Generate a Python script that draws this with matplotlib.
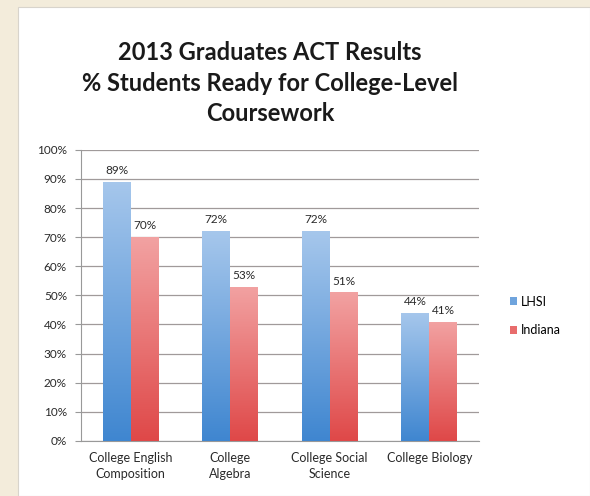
import matplotlib
import matplotlib.pyplot as plt
from matplotlib.patches import Rectangle
import numpy as np

matplotlib.use("Agg")

categories = ["College English\nComposition", "College\nAlgebra",
              "College Social\nScience", "College Biology"]
lhsi = [89, 72, 72, 44]
indiana = [70, 53, 51, 41]
series_names = ["LHSI", "Indiana"]
yticks = list(range(0, 101, 10))

plt.rcParams["font.family"] = ["Lato", "DejaVu Sans"]

fig = plt.figure(figsize=(5.9, 4.96), dpi=100)
fig.patch.set_facecolor("#f3ecdb")

# white chart panel
panel = Rectangle((18 / 590, 0), 1 - 18 / 590, 1 - 7 / 496,
                  transform=fig.transFigure, facecolor="white",
                  edgecolor="#d8d4cc", linewidth=0.8, zorder=-10)
fig.patches.append(panel)

fig.text(0.458, 0.832, "2013 Graduates ACT Results\n% Students Ready for College-Level\nCoursework",
         ha="center", va="center", fontsize=17, fontweight="bold",
         color="#1a1a1a", linespacing=1.4)

ax = fig.add_axes([0.137, 0.111, 0.675, 0.587])
ax.set_facecolor("none")

x = np.arange(len(categories))
w = 0.28


def gradient_bars(xs, vals, top, bottom, label):
    bars = ax.bar(xs, vals, width=w, color=bottom, label=label, zorder=2)
    cmap = matplotlib.colors.LinearSegmentedColormap.from_list("g", [bottom, top])
    grad = np.linspace(0, 1, 256).reshape(-1, 1)
    for b in bars:
        x0, y0 = b.get_x(), b.get_y()
        im = ax.imshow(grad, cmap=cmap, origin="lower", aspect="auto",
                       extent=[x0, x0 + b.get_width(), y0, y0 + b.get_height()],
                       zorder=3)
        im.set_clip_path(b)
    return bars


b1 = gradient_bars(x - w / 2, lhsi, "#a6c7ec", "#3f86d0", series_names[0])
b2 = gradient_bars(x + w / 2, indiana, "#f2a2a2", "#df4848", series_names[1])

for bars, vals in [(b1, lhsi), (b2, indiana)]:
    for b, v in zip(bars, vals):
        ax.text(b.get_x() + b.get_width() / 2, v + 2, f"{v}%",
                ha="center", va="bottom", fontsize=8.5, color="#2a2a2a", zorder=4)

ax.set_xlim(-0.5, len(categories) - 0.5)
ax.set_ylim(0, 100)
ax.set_yticks(yticks)
ax.set_yticklabels([f"{t}%" for t in yticks], fontsize=8.5, color="#2a2a2a")
ax.set_xticks(x)
ax.set_xticklabels(categories, fontsize=9, color="#2a2a2a", linespacing=1.35)
ax.tick_params(axis="x", length=0, pad=8)
ax.tick_params(axis="y", length=4, color="#999999", pad=6)
ax.grid(axis="y", color="#a09a9a", linewidth=0.9, zorder=0)
ax.set_axisbelow(True)
for s in ["top", "right"]:
    ax.spines[s].set_visible(False)
ax.spines["left"].set_color("#999999")
ax.spines["bottom"].set_color("#999999")

handles = [Rectangle((0, 0), 1, 1, facecolor="#6fa4dd"),
           Rectangle((0, 0), 1, 1, facecolor="#e86c6c")]
fig.legend(handles, series_names, loc="center left",
           bbox_to_anchor=(0.845, 0.363), frameon=False, fontsize=9,
           handlelength=0.6, handleheight=0.6, handletextpad=0.3,
           labelspacing=1.3)

fig.savefig("out.png", dpi=100, facecolor=fig.get_facecolor())
